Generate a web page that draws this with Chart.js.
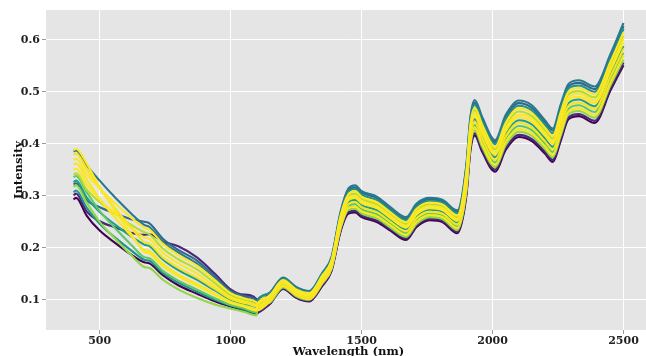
<!DOCTYPE html>
<html>
<head>
<meta charset="utf-8">
<script src="https://cdn.jsdelivr.net/npm/chart.js@4.4.1/dist/chart.umd.min.js"></script>
<style>
  html, body { margin: 0; padding: 0; background: #fff; overflow: hidden; }
  #wrap { width: 646px; height: 356px; overflow: hidden; }
  canvas { display: block; }
</style>
</head>
<body>
<div id="wrap"><canvas id="spectra" width="651" height="356"></canvas></div>
<script>
// wavelength grid (nm) — the step at 1100 is the detector change
const wavelengths = [400, 410, 450, 500, 560, 620, 670, 690, 740, 800, 870, 940, 1000, 1050, 1099,
  1101, 1150, 1200, 1250, 1300, 1350, 1385, 1420, 1450, 1475, 1500, 1560, 1610, 1670, 1710,
  1760, 1810, 1865, 1900, 1915, 1932, 1960, 2010, 2050, 2100, 2150, 2200, 2230, 2260, 2290,
  2330, 2390, 2450, 2500];

const spectrum01 = [.293, .296, .262, .233, .209, .187, .172, .170, .148, .128, .112, .097, .087, .080, .073,
  .074, .092, .121, .104, .097, .127, .155, .232, .266, .268, .259, .249, .233, .215, .240, .253, .249, .228, .300,
  .385, .416, .385, .346, .388, .413, .405, .381, .365, .405, .447, .453, .440, .502, .551];
const spectrum02 = [.301, .304, .270, .251, .239, .229, .225, .226, .212, .203, .182, .150, .120, .110, .101,
  .076, .093, .122, .105, .098, .129, .157, .234, .269, .271, .262, .252, .236, .218, .243, .256, .252, .231, .304,
  .389, .420, .389, .350, .392, .417, .409, .385, .369, .409, .451, .457, .444, .506, .556];
const spectrum03 = [.317, .320, .287, .250, .217, .186, .163, .161, .139, .120, .104, .091, .083, .077, .070,
  .078, .095, .124, .107, .100, .131, .159, .237, .273, .275, .266, .256, .239, .221, .246, .259, .255, .234, .308,
  .394, .426, .394, .355, .397, .423, .415, .390, .374, .415, .457, .463, .450, .512, .562];
const spectrum04 = [.360, .362, .332, .294, .257, .223, .196, .194, .169, .149, .131, .112, .096, .089, .081,
  .080, .097, .126, .109, .101, .133, .161, .240, .277, .279, .270, .260, .243, .225, .250, .263, .259, .238, .313,
  .399, .431, .400, .359, .403, .428, .420, .395, .379, .420, .462, .468, .455, .517, .569];
const spectrum05 = [.336, .338, .307, .271, .237, .206, .182, .180, .156, .137, .120, .103, .090, .084, .076,
  .082, .099, .128, .110, .103, .135, .163, .243, .280, .284, .274, .264, .247, .228, .254, .266, .262, .241, .318,
  .405, .436, .405, .364, .408, .434, .426, .400, .384, .426, .467, .474, .461, .523, .575];
const spectrum06 = [.379, .381, .352, .314, .275, .239, .211, .208, .182, .162, .143, .121, .102, .094, .086,
  .084, .100, .129, .112, .105, .137, .165, .246, .284, .288, .278, .268, .250, .232, .257, .269, .265, .245, .323,
  .410, .442, .411, .369, .414, .440, .431, .405, .389, .432, .473, .479, .467, .529, .582];
const spectrum07 = [.326, .329, .297, .269, .244, .222, .206, .203, .178, .157, .139, .118, .100, .092, .084,
  .086, .102, .131, .114, .106, .139, .167, .250, .288, .292, .282, .272, .254, .235, .261, .273, .269, .248, .328,
  .415, .447, .416, .374, .419, .445, .437, .410, .394, .437, .478, .485, .472, .534, .588];
const spectrum08 = [.350, .352, .322, .293, .265, .239, .220, .217, .191, .170, .151, .126, .105, .097, .089,
  .088, .104, .133, .115, .108, .141, .170, .253, .292, .296, .286, .276, .257, .239, .264, .276, .272, .252, .332,
  .420, .453, .421, .379, .424, .451, .442, .416, .400, .443, .484, .490, .478, .540, .595];
const spectrum09 = [.388, .390, .362, .317, .270, .227, .192, .189, .165, .145, .127, .109, .094, .087, .079,
  .090, .106, .135, .117, .109, .143, .172, .256, .296, .300, .290, .279, .261, .242, .268, .280, .276, .255, .337,
  .425, .458, .427, .384, .430, .456, .448, .421, .405, .448, .489, .496, .483, .545, .601];
const spectrum10 = [.341, .343, .312, .288, .265, .244, .230, .226, .199, .178, .159, .132, .109, .100, .092,
  .092, .107, .136, .119, .111, .145, .174, .259, .300, .304, .294, .283, .265, .246, .272, .283, .279, .259, .342,
  .431, .464, .432, .389, .435, .462, .453, .426, .410, .454, .495, .501, .489, .551, .608];
const spectrum11 = [.369, .371, .342, .314, .285, .258, .239, .235, .208, .186, .166, .138, .113, .103, .095,
  .094, .109, .138, .120, .113, .147, .176, .262, .303, .309, .298, .287, .268, .249, .275, .287, .283, .262, .347,
  .436, .469, .437, .394, .440, .468, .459, .431, .415, .460, .500, .507, .495, .557, .614];
const spectrum12 = [.307, .310, .277, .246, .219, .195, .177, .175, .152, .133, .116, .100, .089, .082, .075,
  .096, .111, .140, .122, .114, .149, .178, .265, .307, .313, .302, .291, .272, .253, .279, .290, .286, .266, .352,
  .441, .475, .443, .399, .446, .473, .464, .436, .420, .465, .506, .512, .500, .562, .621];
const spectrum13 = [.322, .324, .292, .278, .266, .255, .250, .247, .218, .196, .176, .145, .117, .107, .099,
  .097, .113, .142, .124, .116, .150, .180, .267, .311, .316, .306, .295, .275, .256, .282, .293, .289, .269, .356,
  .446, .479, .447, .403, .450, .478, .469, .441, .425, .470, .510, .517, .505, .567, .626];
const spectrum14 = [.385, .387, .359, .329, .296, .266, .244, .240, .212, .191, .170, .141, .115, .105, .096,
  .099, .114, .143, .125, .117, .152, .182, .270, .314, .320, .309, .298, .278, .259, .285, .296, .292, .272, .360,
  .450, .484, .452, .407, .455, .483, .474, .445, .429, .475, .515, .522, .510, .572, .632];

const xTicks = [500, 1000, 1500, 2000, 2500];
const yTicks = [0.1, 0.2, 0.3, 0.4, 0.5, 0.6];

// first in the list is drawn on top
const spectra = [spectrum09, spectrum11, spectrum06, spectrum08, spectrum04, spectrum10, spectrum05,
  spectrum03, spectrum07, spectrum12, spectrum14, spectrum13, spectrum02, spectrum01];
const lineColors = ["#fde725", "#fde725", "#f5e41f", "#fde725", "#f8e621", "#b5de2b", "#5ec962",
  "#8fd744", "#1f9e89", "#21918c", "#2a788e", "#31688e", "#482878", "#440154"];

const plotBg = {
  id: "plotBg",
  beforeDraw(chart) {
    const { ctx, chartArea: a } = chart;
    ctx.save();
    ctx.fillStyle = "#e5e5e5";
    ctx.fillRect(a.left, a.top, a.right - a.left, a.bottom - a.top);
    ctx.restore();
  },
};

const tickFont = { family: "DejaVu Serif", weight: "bold", size: 11 };
const titleFont = { family: "DejaVu Serif", weight: "bold", size: 11.6, lineHeight: 1 };

new Chart(document.getElementById("spectra"), {
  type: "line",
  data: {
    datasets: spectra.map((vals, i) => ({
      data: wavelengths.map((w, j) => ({ x: w, y: vals[j] })),
      borderColor: lineColors[i],
      borderWidth: 2.1,
      pointRadius: 0,
      cubicInterpolationMode: "monotone",
      fill: false,
    })),
  },
  options: {
    responsive: false,
    devicePixelRatio: 1,
    animation: false,
    layout: { padding: { top: 10, left: 0, right: 0, bottom: 0 } },
    plugins: { legend: { display: false }, tooltip: { enabled: false } },
    scales: {
      x: {
        type: "linear",
        min: 295,
        max: 2605,
        afterFit: (s) => { s.height = 26; },
        afterBuildTicks: (s) => { s.ticks = xTicks.map((v) => ({ value: v })); },
        border: { display: false },
        grid: { color: "#ffffff", lineWidth: 1, tickLength: 4, tickColor: "#9a9a9a" },
        ticks: { font: tickFont, color: "#222", padding: 1, maxRotation: 0, callback: (v) => String(v) },
        title: { display: true, text: "Wavelength (nm)", font: titleFont, color: "#111", padding: { top: 0, bottom: -2 } },
      },
      y: {
        min: 0.042,
        max: 0.657,
        afterFit: (s) => { s.width = 46; },
        afterBuildTicks: (s) => { s.ticks = yTicks.map((v) => ({ value: v })); },
        border: { display: false },
        grid: { color: "#ffffff", lineWidth: 1, tickLength: 4, tickColor: "#9a9a9a" },
        ticks: { font: tickFont, color: "#222", padding: 2, callback: (v) => v.toFixed(1) },
        title: { display: true, text: "Intensity", font: titleFont, color: "#111", padding: { top: 13, bottom: 0 } },
      },
    },
  },
  plugins: [plotBg],
});
</script>
</body>
</html>
